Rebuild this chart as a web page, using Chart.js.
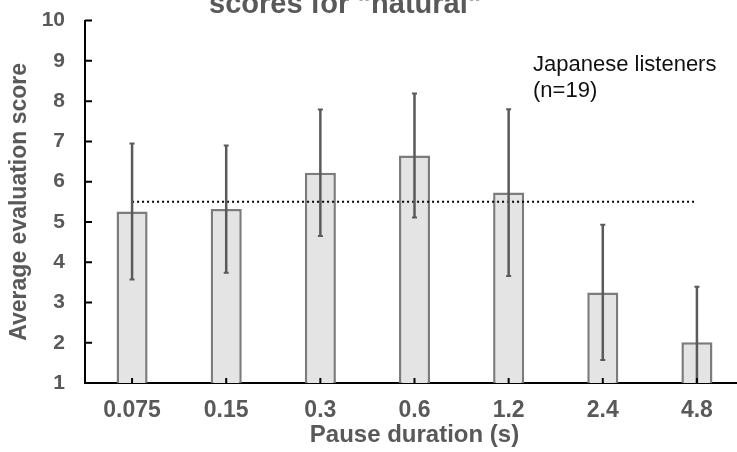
<!DOCTYPE html>
<html>
<head>
<meta charset="utf-8">
<script src="https://cdn.jsdelivr.net/npm/chart.js@4/dist/chart.umd.min.js"></script>
<style>
  html, body { margin: 0; padding: 0; background: #fff; overflow: hidden; }
  #wrap { position: relative; width: 745px; height: 452px; overflow: hidden; }
  #chart { position: absolute; left: 0; top: -12px; }
</style>
</head>
<body>
<div id="wrap"><canvas id="chart" width="745" height="464"></canvas></div>
<script>
// pause durations (s) and mean "natural" scores, Japanese listeners
const durations = ['0.075', '0.15', '0.3', '0.6', '1.2', '2.4', '4.8'];
const meanScores = [5.26, 5.32, 6.22, 6.65, 5.73, 3.25, 2.01];
const sdScores = [1.69, 1.58, 1.57, 1.54, 2.07, 1.68, 1.38];
const neutralLine = [5.5, 5.5, 5.5, 5.5, 5.5, 5.5, 5.5];
const yTicks = [1, 2, 3, 4, 5, 6, 7, 8, 9, 10];

const GRAY_TEXT = '#595959';
const FONT = '"Liberation Sans", Arial, sans-serif';
const SHIFT = 12; // canvas sits 12px above the page top

// error bars, clipped to chart area
const errorBars = {
  id: 'errorBars',
  afterDatasetsDraw(chart) {
    const { ctx, chartArea: a } = chart;
    const y = chart.scales.y;
    const meta = chart.getDatasetMeta(1);
    ctx.save();
    ctx.beginPath(); ctx.rect(a.left, a.top - 2, a.right - a.left, a.bottom - a.top + 2); ctx.clip();
    ctx.strokeStyle = '#5a5a5a';
    meta.data.forEach((bar, i) => {
      const hi = y.getPixelForValue(meanScores[i] + sdScores[i]);
      const lo = y.getPixelForValue(meanScores[i] - sdScores[i]);
      ctx.lineWidth = 2.5;
      ctx.beginPath(); ctx.moveTo(bar.x, hi); ctx.lineTo(bar.x, lo); ctx.stroke();
      ctx.lineWidth = 2;
      ctx.beginPath();
      ctx.moveTo(bar.x - 2.5, hi); ctx.lineTo(bar.x + 2.5, hi);
      ctx.moveTo(bar.x - 2.5, lo); ctx.lineTo(bar.x + 2.5, lo);
      ctx.stroke();
    });
    ctx.restore();
  }
};

// tick marks pointing into the plot, plus the text labels
const extras = {
  id: 'extras',
  afterDraw(chart) {
    const { ctx, chartArea: a } = chart;
    const x = chart.scales.x, y = chart.scales.y;
    ctx.save();
    ctx.strokeStyle = '#000';
    ctx.lineWidth = 2;
    ctx.beginPath();
    yTicks.forEach(v => {
      const py = y.getPixelForValue(v);
      ctx.moveTo(a.left, py); ctx.lineTo(a.left + 7, py);
    });
    durations.forEach((d, i) => {
      const px = x.getPixelForValue(i);
      ctx.moveTo(px, a.bottom); ctx.lineTo(px, a.bottom - 5);
    });
    ctx.stroke();

    // title (top line is cut off in the source image)
    ctx.fillStyle = GRAY_TEXT;
    ctx.font = 'bold 29px ' + FONT;
    ctx.textBaseline = 'alphabetic';
    ctx.textAlign = 'left';
    ctx.fillText('scores for "natural"', 209, 13 + SHIFT);

    ctx.fillStyle = '#111';
    ctx.font = '22px ' + FONT;
    ctx.fillText('Japanese listeners', 533, 71 + SHIFT);
    ctx.fillText('(n=19)', 533, 97 + SHIFT);
    ctx.restore();
  }
};

new Chart(document.getElementById('chart'), {
  data: {
    labels: durations,
    datasets: [
      {
        type: 'line', data: neutralLine, order: 0,
        borderColor: '#000', borderWidth: 2, borderDash: [2, 3],
        pointRadius: 0, fill: false,
      },
      {
        type: 'bar', data: meanScores, order: 1,
        backgroundColor: '#e4e4e4', borderColor: '#7c7c7c', borderWidth: 2.5,
        barPercentage: 0.33, categoryPercentage: 1,
      },
    ],
  },
  options: {
    responsive: false, animation: false, devicePixelRatio: 1,
    layout: { padding: { top: 8, right: 1, left: 0, bottom: 0 } },
    plugins: { legend: { display: false }, tooltip: { enabled: false }, title: { display: false } },
    scales: {
      x: {
        offset: true,
        grid: { display: false, drawTicks: false },
        border: { display: true, color: '#000', width: 2 },
        ticks: { color: GRAY_TEXT, font: { family: FONT, size: 23, weight: 'bold' }, padding: 14 },
        title: { display: true, text: 'Pause duration (s)', color: GRAY_TEXT,
                 font: { family: FONT, size: 24, weight: 'bold' }, padding: { top: 0, bottom: 2 } },
        afterFit(scale) { scale.height = 69; },
      },
      y: {
        min: 1, max: 10,
        grid: { display: false, drawTicks: false },
        border: { display: true, color: '#000', width: 2 },
        ticks: { stepSize: 1, color: GRAY_TEXT, font: { family: FONT, size: 21, weight: 'bold' }, padding: 20 },
        title: { display: true, text: 'Average evaluation score', color: GRAY_TEXT,
                 font: { family: FONT, size: 23, weight: 'bold' }, padding: { top: 6, bottom: 0 } },
        afterFit(scale) { scale.width = 85; },
      },
    },
  },
  plugins: [errorBars, extras],
});
</script>
</body>
</html>
